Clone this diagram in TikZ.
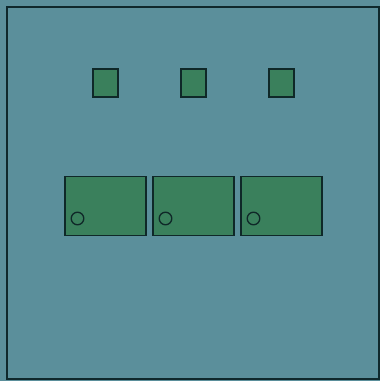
\documentclass[tikz,border=0pt]{standalone}
\begin{document}
\begin{tikzpicture}[x=1pt,y=-1pt,
  bgc/.style={fill={rgb,255:red,91;green,143;blue,155}},
  comp/.style={draw={rgb,255:red,15;green,40;blue,40},line width=1.5pt,fill={rgb,255:red,58;green,128;blue,92}},
  hole/.style={draw={rgb,255:red,15;green,40;blue,40},line width=1.3pt}]
\path[bgc,use as bounding box] (0,0) rectangle (380,381);
\draw[draw={rgb,255:red,15;green,40;blue,44},line width=2.2pt] (7,7) rectangle (379,379);
\node[comp,minimum width=25pt,minimum height=28pt,inner sep=0pt] (s1) at (105.5,83) {};
\node[comp,minimum width=25pt,minimum height=28pt,inner sep=0pt] (s2) at (193.5,83) {};
\node[comp,minimum width=25pt,minimum height=28pt,inner sep=0pt] (s3) at (281.5,83) {};
\node[comp,minimum width=81pt,minimum height=59pt,inner sep=0pt] (b1) at (105.5,206) {};
\node[comp,minimum width=81pt,minimum height=59pt,inner sep=0pt] (b2) at (193.5,206) {};
\node[comp,minimum width=81pt,minimum height=59pt,inner sep=0pt] (b3) at (281.5,206) {};
\draw[hole] (77.5,218.5) circle (6.3);
\draw[hole] (165.5,218.5) circle (6.3);
\draw[hole] (253.5,218.5) circle (6.3);
\end{tikzpicture}
\end{document}
